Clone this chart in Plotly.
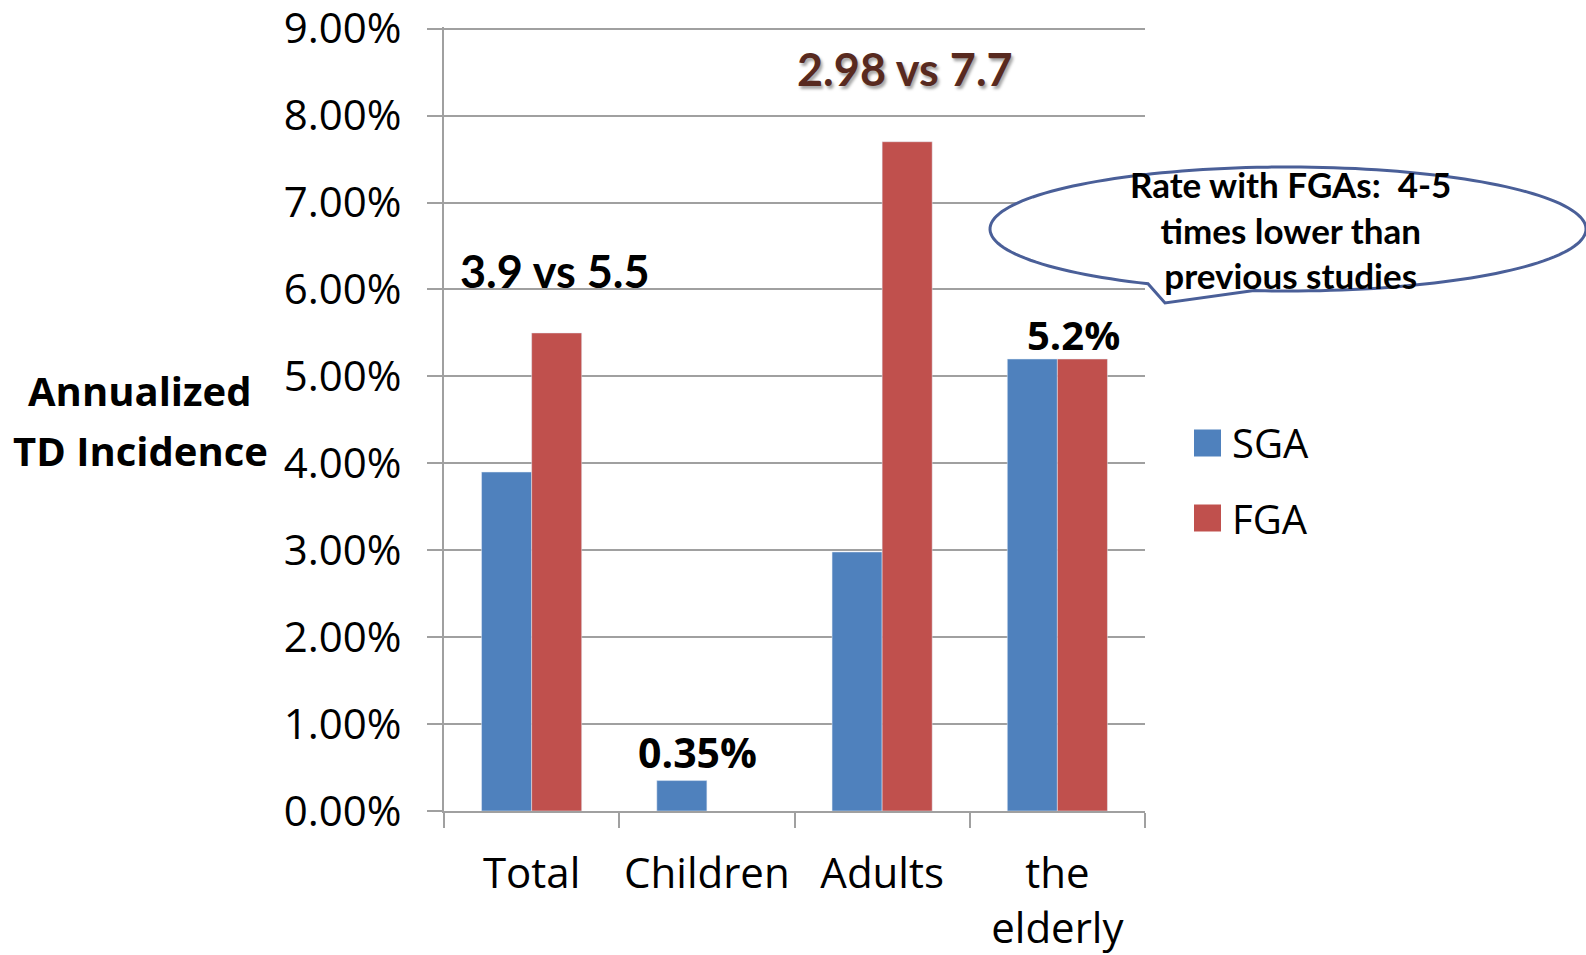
import math
import plotly.graph_objects as go

# ---------------- data ----------------
categories = ["Total", "Children", "Adults", "the<br>elderly"]
sga_values = [0.039, 0.0035, 0.0298, 0.052]
fga_values = [0.055, None, 0.077, 0.052]
series_names = ["SGA", "FGA"]
series_colors = ["#4F81BD", "#C0504D"]
y_ticks = [0.00, 0.01, 0.02, 0.03, 0.04, 0.05, 0.06, 0.07, 0.08, 0.09]

# ---------------- layout geometry (pixels) ----------------
W, H = 1586, 955
L, R, T, B = 444, 441, 27, 144
PW, PH = W - L - R, H - T - B


def px(x):
    return (x - L) / PW


def py(y):
    return (H - B - y) / PH


GRID = "#A0A0A0"
FONT = "Open Sans"

fig = go.Figure()
fig.add_trace(go.Bar(x=categories, y=sga_values, name=series_names[0],
                     marker=dict(color=series_colors[0]), showlegend=False))
fig.add_trace(go.Bar(x=categories, y=fga_values, name=series_names[1],
                     marker=dict(color=series_colors[1]), showlegend=False))

annotations = []
shapes = []

# y-axis title
for txt, yy in [("Annualized", 390), ("TD Incidence", 450)]:
    annotations.append(dict(x=px(140), y=py(yy), xref="paper", yref="paper",
                            text=txt, showarrow=False, xanchor="center", yanchor="middle",
                            font=dict(family=FONT, size=40, color="black", weight="bold")))

# bar labels
annotations.append(dict(x=px(555), y=py(271), xref="paper", yref="paper", text="3.9 vs 5.5",
                        showarrow=False, xanchor="center", yanchor="middle",
                        font=dict(family="Lato", size=45, color="black", weight="bold")))
annotations.append(dict(x=px(905), y=py(69), xref="paper", yref="paper", text="2.98 vs 7.7",
                        showarrow=False, xanchor="center", yanchor="middle",
                        font=dict(family="Lato", size=45, color="#582A20", weight="bold",
                                  shadow="2px 3px 3px rgba(0,0,0,0.35)")))
annotations.append(dict(x=px(697), y=py(752), xref="paper", yref="paper", text="0.35%",
                        showarrow=False, xanchor="center", yanchor="middle",
                        font=dict(family=FONT, size=41, color="black", weight="bold")))
annotations.append(dict(x=px(1073), y=py(334), xref="paper", yref="paper", text="5.2%",
                        showarrow=False, xanchor="center", yanchor="middle",
                        font=dict(family=FONT, size=40, color="black", weight="bold")))

# legend (drawn manually to match large swatches)
for name, color, cy in zip(series_names, series_colors, [443, 518]):
    shapes.append(dict(type="rect", xref="paper", yref="paper",
                       x0=px(1194), x1=px(1221), y0=py(cy - 13.5), y1=py(cy + 13.5),
                       fillcolor=color, line=dict(width=0)))
    annotations.append(dict(x=px(1230), y=py(cy), xref="paper", yref="paper", text=name,
                            showarrow=False, xanchor="left", yanchor="middle",
                            font=dict(family=FONT, size=40, color="black")))

# speech bubble callout
cx, cy, a, b = 1288, 229, 298, 62
tail_left, tail_tip, tail_right = 1148, (1165, 303), 1254
ang_r = math.acos((tail_right - cx) / a)
ang_l = math.acos((tail_left - cx) / a)
pts = []
n = 160
start = ang_r
end = ang_l - 2 * math.pi
for i in range(n + 1):
    t = start + (end - start) * i / n
    pts.append((cx + a * math.cos(t), cy + b * math.sin(t)))
pts.append(tail_tip)
path = "M " + " L ".join(f"{px(x):.5f},{py(y):.5f}" for x, y in pts) + " Z"
shapes.append(dict(type="path", xref="paper", yref="paper", path=path,
                   fillcolor="white", line=dict(color="#4A5F98", width=3), layer="above"))
annotations.append(dict(x=px(1290), y=py(229), xref="paper", yref="paper",
                        text="Rate with FGAs:\u00a0\u00a04-5<br>times lower than<br>previous studies",
                        showarrow=False, xanchor="center", yanchor="middle", align="center",
                        font=dict(family="Lato", size=35, color="black", weight="bold")))

fig.update_layout(
    width=W, height=H,
    margin=dict(l=L, r=R, t=T, b=B, pad=0),
    paper_bgcolor="white", plot_bgcolor="white",
    barmode="group", bargap=0.4286, bargroupgap=0,
    showlegend=False,
    annotations=annotations, shapes=shapes,
    font=dict(family=FONT, color="black"),
)
fig.update_xaxes(
    type="category", showline=True, linecolor=GRID, linewidth=2,
    ticks="outside", tickson="boundaries", ticklen=15, tickwidth=2, tickcolor=GRID,
    tickfont=dict(family=FONT, size=42, color="black"), ticklabelstandoff=25,
    tickangle=0, automargin=False, showgrid=False,
)
fig.update_yaxes(
    range=[0, 0.0902], tickvals=y_ticks, tickformat=".2%",
    showgrid=True, gridcolor=GRID, gridwidth=2, zeroline=False,
    showline=True, linecolor=GRID, linewidth=2,
    ticks="outside", ticklen=15, tickwidth=2, tickcolor=GRID,
    tickfont=dict(family=FONT, size=42, color="black"), ticklabelstandoff=17,
    ticklabeloverflow="allow", automargin=False,
)

fig.write_html("out.html", config={"displayModeBar": False})
